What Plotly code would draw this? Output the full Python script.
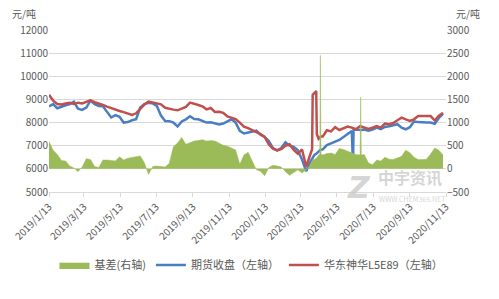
import plotly.graph_objects as go

dates = [
    "2019-01-13","2019-01-20","2019-01-27","2019-02-03","2019-02-10","2019-02-17","2019-02-24",
    "2019-03-03","2019-03-10","2019-03-17","2019-03-24","2019-03-31","2019-04-07","2019-04-14",
    "2019-04-21","2019-04-28","2019-05-05","2019-05-12","2019-05-19","2019-05-26","2019-06-02",
    "2019-06-09","2019-06-16","2019-06-23","2019-06-30","2019-07-07","2019-07-14","2019-07-21",
    "2019-07-28","2019-08-04","2019-08-11","2019-08-18","2019-08-25","2019-09-01","2019-09-08",
    "2019-09-15","2019-09-22","2019-09-29","2019-10-06","2019-10-13","2019-10-20","2019-10-27",
    "2019-11-03","2019-11-10","2019-11-17","2019-11-24","2019-12-01","2019-12-08","2019-12-15",
    "2019-12-22","2019-12-29","2020-01-05","2020-01-12","2020-01-19","2020-01-26","2020-02-02",
    "2020-02-09","2020-02-16","2020-02-23","2020-03-01","2020-03-08","2020-03-15","2020-03-22",
    "2020-03-29","2020-04-01","2020-04-02","2020-04-05","2020-04-08","2020-04-09","2020-04-12",
    "2020-04-14","2020-04-15","2020-04-16","2020-04-19","2020-04-26","2020-05-03","2020-05-10",
    "2020-05-17","2020-05-24","2020-05-31","2020-06-07","2020-06-09","2020-06-10","2020-06-14",
    "2020-06-21","2020-06-22","2020-06-23","2020-06-28","2020-07-05","2020-07-12","2020-07-19",
    "2020-07-26","2020-08-02","2020-08-09","2020-08-16","2020-08-23","2020-08-30","2020-09-06",
    "2020-09-13","2020-09-20","2020-09-27","2020-10-04","2020-10-11","2020-10-18","2020-10-25",
    "2020-11-01","2020-11-08",
]

# 华东神华L5E89 (left axis, 元/吨)
spot = [
    9200,8950,8800,8780,8820,8850,8800,
    8860,8830,8900,8960,8880,8830,8760,
    8690,8620,8570,8500,8450,8400,8330,
    8400,8600,8780,8910,8860,8820,8790,
    8640,8590,8560,8530,8600,8680,8860,
    8820,8760,8700,8570,8630,8460,8470,
    8420,8270,8210,8150,8000,7820,7760,
    7680,7580,7500,7380,7050,6870,6800,
    6850,7000,7060,6820,6650,6840,6100,
    6700,6850,9200,9300,9360,7500,7300,
    7350,7380,7400,7400,7670,7620,7800,
    7680,7760,7830,7780,7760,7750,7710,
    7850,7840,7830,7790,7720,7780,7850,
    7780,7960,7930,7980,8100,8210,8140,
    8070,8140,8280,8280,8280,8280,8090,
    8300,8420,
]

# 期货收盘 (left axis, 元/吨)
futures = [
    8700,8800,8620,8700,8750,8800,8900,
    8600,8550,8650,8950,8800,8720,8700,
    8450,8220,8320,8250,8000,8020,8100,
    8150,8650,8800,8850,8830,8720,8300,
    8070,8060,8000,7830,8050,8140,8270,
    8150,8140,8080,8000,8010,7980,7920,
    7960,8060,8140,8000,7640,7530,7570,
    7630,7650,7470,7380,7200,6900,6800,
    6900,7150,7000,6950,6800,6400,5900,
    6300,6420,6450,6600,6650,6680,6780,
    6800,6820,6830,6840,7030,7110,7160,
    7250,7380,7530,7640,6170,7680,7700,
    7670,7670,7680,7700,7650,7700,7780,
    7720,7810,7840,7900,7930,7780,7710,
    7800,8050,8020,8000,8000,8000,7950,
    8200,8380,
]

# 基差 (right axis, 元/吨)
basis = [
    590,400,310,180,170,60,20,
    -60,40,220,200,50,30,190,
    190,175,170,260,190,230,250,
    270,280,130,-120,50,60,50,
    40,120,480,560,680,530,560,
    600,610,630,600,610,600,560,
    510,490,450,410,100,300,360,
    150,-20,-50,-150,30,80,60,
    40,-60,-140,-80,-20,-90,-20,
    80,150,200,200,230,240,300,
    310,2450,320,300,330,340,310,
    440,420,380,350,340,330,310,
    300,1550,300,310,130,90,190,
    170,250,210,200,240,270,400,
    350,250,200,200,210,320,450,
    400,300,
]

tick_dates = ["2019-01-13","2019-03-13","2019-05-13","2019-07-13","2019-09-13","2019-11-13",
              "2020-01-13","2020-03-13","2020-05-13","2020-07-13","2020-09-13","2020-11-13"]
tick_text = ["2019/1/13","2019/3/13","2019/5/13","2019/7/13","2019/9/13","2019/11/13",
             "2020/1/13","2020/3/13","2020/5/13","2020/7/13","2020/9/13","2020/11/13"]

FONT = "Noto Sans CJK SC"
TXT = "#595959"
GRID = "#d9d9d9"
WM = "rgba(200,200,200,0.75)"

fig = go.Figure()
fig.add_trace(go.Scatter(x=dates, y=basis, name="基差(右轴)", yaxis="y2",
                         mode="lines", line=dict(color="#9BBB59", width=0.5),
                         fill="tozeroy", fillcolor="#9BBB59"))
fig.add_trace(go.Scatter(x=dates, y=futures, name="期货收盘（左轴）", mode="lines",
                         line=dict(color="#4A7EC2", width=2.5)))
fig.add_trace(go.Scatter(x=dates, y=spot, name="华东神华L5E89（左轴）", mode="lines",
                         line=dict(color="#C0504D", width=2.5)))

fig.update_layout(
    width=499, height=299,
    margin=dict(l=49, r=53, t=30, b=107),
    paper_bgcolor="white", plot_bgcolor="white",
    font=dict(family=FONT, size=10, color=TXT),
    showlegend=True,
    legend=dict(orientation="h", x=0.51, xanchor="center", y=-0.45, yanchor="middle",
                font=dict(size=11, color=TXT), itemwidth=30, tracegroupgap=0),
    xaxis=dict(type="date", range=["2019-01-13", "2020-11-13"],
               tickvals=tick_dates, ticktext=tick_text, tickangle=-45,
               showgrid=False, showline=True, linecolor=GRID, linewidth=1,
               ticks="outside", ticklen=4, tickcolor=GRID,
               tickfont=dict(size=10, color=TXT)),
    yaxis=dict(range=[5000, 12000], dtick=1000, tickformat="d", showgrid=True, gridcolor=GRID,
               zeroline=False, showline=False, tickfont=dict(size=10, color=TXT)),
    yaxis2=dict(range=[-500, 3000], dtick=500, tickformat="d", overlaying="y", side="right",
                showgrid=False, zeroline=False, showline=False,
                tickfont=dict(size=10, color=TXT)),
    annotations=[
        dict(text="元/吨", xref="paper", yref="paper", x=-0.063, y=1.1, xanchor="center",
             yanchor="middle", showarrow=False, font=dict(size=10, color=TXT)),
        dict(text="元/吨", xref="paper", yref="paper", x=1.055, y=1.1, xanchor="center",
             yanchor="middle", showarrow=False, font=dict(size=10, color=TXT)),
        dict(text="<b><i>Z</i></b>", xref="paper", yref="paper", x=0.78, y=0.03,
             xanchor="center", yanchor="middle", showarrow=False,
             font=dict(size=30, color=WM, family="DejaVu Sans")),
        dict(text="<b>中宇资讯</b>", xref="paper", yref="paper", x=0.91, y=0.09,
             xanchor="center", yanchor="middle", showarrow=False,
             font=dict(size=16, color=WM)),
        dict(text="WWW.CHEM365.NET", xref="paper", yref="paper", x=0.915, y=-0.045,
             xanchor="center", yanchor="middle", showarrow=False,
             font=dict(size=7, color=WM)),
    ],
)

fig.write_html("out.html")
